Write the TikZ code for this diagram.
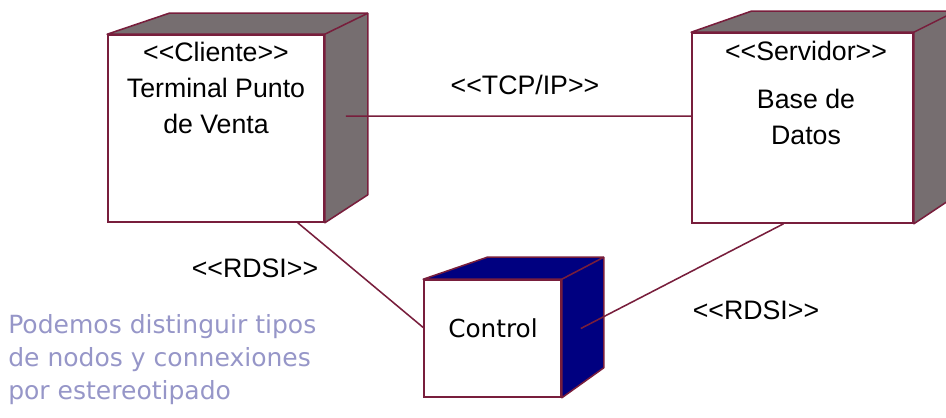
\documentclass[tikz,border=0pt]{standalone}
\usepackage{fontspec}
\setmainfont{Liberation Sans}
\newfontfamily\notafont{DejaVu Sans}
\usetikzlibrary{positioning,calc}
\definecolor{linea}{RGB}{120,30,60}
\definecolor{gris}{RGB}{118,110,112}
\definecolor{marino}{RGB}{0,0,128}
\definecolor{nota}{RGB}{150,150,200}
\tikzset{
	cara/.style={draw=linea, fill=white, line width=1.1pt, inner sep=0pt},
	lado/.style={draw=linea, line width=1.1pt, line join=round},
	enlace/.style={draw=linea, line width=1.1pt},
	txt/.style={font=\fontsize{19}{25.5}\selectfont, align=center, inner sep=0pt}
}

\begin{document}
\begin{tikzpicture}[x=0.025cm, y=-0.025cm]
	\useasboundingbox (0,0) rectangle (946,417);
	% cajas
	\node at (216,128.5) [cara, minimum width=5.4cm, minimum height=4.675cm] (cli) {};
	\filldraw[lado, fill=gris] (cli.north west) -- ++(62,-21) -- ($(cli.north east)+(43,-21)$) coordinate (cliB) -- ($(cli.south east)+(43,-28)$) -- (cli.south east) -- (cli.north east) -- cycle;
	\draw[lado] (cli.north east) -- (cliB);
	\node at (802.5,128) [cara, minimum width=5.525cm, minimum height=4.75cm] (serv) {};
	\filldraw[lado, fill=gris] (serv.north west) -- ++(60,-21) -- ($(serv.north east)+(42,-21)$) coordinate (servB) -- ($(serv.south east)+(42,-28)$) -- (serv.south east) -- (serv.north east) -- cycle;
	\draw[lado] (serv.north east) -- (servB);
	\node at (492.5,338.5) [cara, minimum width=3.425cm, minimum height=2.925cm] (ctrl) {};
	\filldraw[lado, fill=marino] (ctrl.north west) -- ++(64,-22) -- ($(ctrl.north east)+(42,-22)$) coordinate (ctrlB) -- ($(ctrl.south east)+(42,-30)$) -- (ctrl.south east) -- (ctrl.north east) -- cycle;
	\draw[lado] (ctrl.north east) -- (ctrlB);
	% textos
	\node at (216,88) [txt] (cliT) {<{}<Cliente>{}>\\Terminal Punto\\de Venta};
	\node at (806,93) [txt] (servT) {<{}<Servidor>{}>\\[9pt]Base de\\Datos};
	\node at (493,328) [txt, font=\notafont\fontsize{17.6}{22}\selectfont] (ctrlT) {Control};
	% enlaces
	\draw[enlace] ($(cli.north east)+(21,82)$) -- ($(serv.north west)+(0,84)$);
	\draw[enlace] ($(cli.south east)+(-27,0)$) -- ($(ctrl.west)+(0,-11)$);
	\draw[enlace] ($(serv.south)+(-19,0)$) -- ($(ctrl.east)+(19,-10)$);
	\node at (525,85) [txt] (tcp) {<{}<TCP/IP>{}>};
	\node at (255,268) [txt] (rdsiA) {<{}<RDSI>{}>};
	\node at (756,310) [txt] (rdsiB) {<{}<RDSI>{}>};
	% nota
	\node at (8,360) [anchor=west, align=left, inner sep=0pt, text=nota, font=\notafont\fontsize{17.8}{23.5}\selectfont] (nota) {Podemos distinguir tipos\\de nodos y connexiones\\por estereotipado};
\end{tikzpicture}
\end{document}
